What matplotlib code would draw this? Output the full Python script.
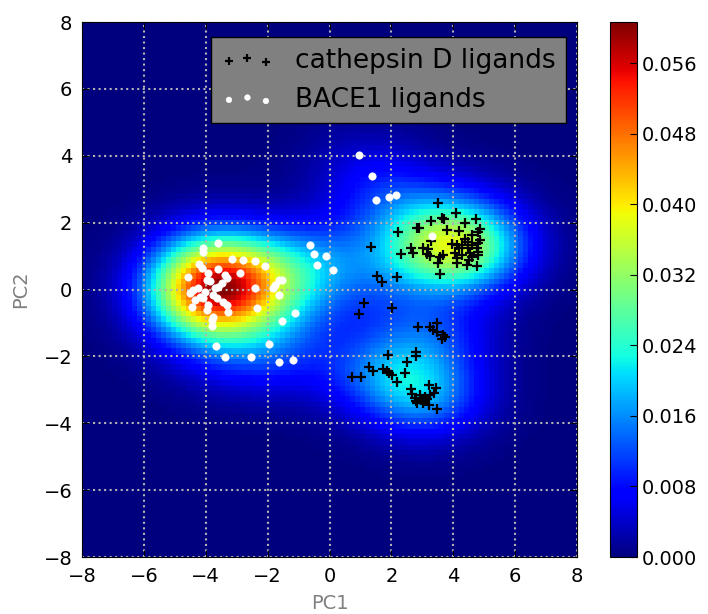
import numpy as np
import matplotlib
matplotlib.use('Agg')
import matplotlib.pyplot as plt

# BACE1 ligands (white dots), PC1 / PC2
bace_x = [-3.61, -4.08, -4.10, -3.16, -2.79, -2.42, -2.09,
          -4.22, -4.13, -4.58, -3.61, -3.92, -3.97, -3.86, -3.38, -3.32, -3.48, -3.59,
          -3.70, -4.40, -4.24, -4.02, -4.51, -3.76, -4.19, -4.08, -3.65, -4.35, -3.43,
          -3.32, -3.92, -4.45, -3.97, -3.27, -3.76, -3.81, -3.81, -2.89, -2.41,
          -2.35, -1.12, -1.53, -3.67, -1.97, -3.37, -2.53, -1.63, -1.17,
          -1.62, -1.55, -1.76, -1.82, -1.62,
          -0.63, -0.49, -0.10, -0.40, 0.12,
          0.95, 1.38, 1.49, 1.92, 2.16, 3.32]
bace_y = [1.38, 1.23, 1.11, 0.92, 0.89, 0.86, 0.70,
          0.75, 0.65, 0.38, 0.61, 0.49, 0.28, 0.25, 0.43, 0.34, 0.19, 0.08,
          0.04, -0.01, 0.04, -0.07, -0.11, -0.16, -0.21, -0.26, -0.26, -0.31, -0.36,
          -0.46, -0.46, -0.51, -0.61, -0.66, -0.81, -0.91, -1.08, 0.49, 0.04,
          -0.56, -0.71, -0.95, -1.70, -1.64, -2.01, -2.01, -2.18, -2.11,
          0.28, 0.28, 0.14, 0.04, -0.15,
          1.33, 1.05, 1.01, 0.72, 0.57,
          4.03, 3.40, 2.67, 2.76, 2.82, 1.61]

# cathepsin D ligands (black crosses)
cath_x = [3.50, 4.08, 3.63, 3.70, 3.27, 4.38, 4.73, 2.82, 2.89, 2.20, 3.79, 4.19,
          4.86, 4.81, 4.62, 3.28, 4.38, 4.49, 4.86, 3.95, 4.11, 4.27, 4.60, 4.81,
          2.63, 3.03, 3.19, 4.20, 4.49, 4.76, 2.71, 4.06, 4.27, 4.54, 4.81, 2.31,
          3.14, 3.25, 3.68, 3.57, 4.11, 4.60, 4.51, 4.81, 4.11, 3.52, 4.43, 4.76, 3.57,
          1.33, 1.53, 1.71, 2.17, 1.12, 0.96, 2.02, 2.85, 3.25, 3.34, 3.49, 3.46,
          3.68, 3.73, 3.63, 2.80, 2.80, 1.90, 2.50, 2.43, 1.29, 1.40, 1.72, 1.85,
          1.93, 2.03, 0.72, 1.02, 2.17,
          2.62, 3.23, 3.44, 2.66, 2.75, 2.92, 3.09, 3.24, 3.39, 2.80, 2.96, 3.14,
          2.84, 3.21, 3.48, 3.02]
cath_y = [2.58, 2.28, 2.15, 2.10, 2.05, 2.00, 2.11, 1.85, 1.83, 1.73, 1.78, 1.75,
          1.81, 1.73, 1.63, 1.45, 1.50, 1.43, 1.48, 1.35, 1.33, 1.33, 1.33, 1.38,
          1.25, 1.23, 1.20, 1.23, 1.25, 1.23, 1.08, 1.08, 1.03, 1.08, 1.13, 1.05,
          1.05, 1.01, 1.03, 0.98, 0.95, 0.98, 0.88, 1.03, 0.78, 0.78, 0.73, 0.71, 0.45,
          1.28, 0.40, 0.23, 0.36, -0.39, -0.73, -0.56, -1.12, -1.11, -1.21, -0.99, -1.28,
          -1.37, -1.41, -1.49, -1.87, -1.99, -1.97, -2.17, -2.49, -2.33, -2.44, -2.38, -2.43,
          -2.50, -2.57, -2.61, -2.63, -2.78,
          -2.98, -2.87, -2.94, -3.13, -3.24, -3.14, -3.21, -3.16, -3.08, -3.34, -3.29, -3.28,
          -3.40, -3.45, -3.57, -3.38]

# kernel widths along PC1 / PC2 and weight of each ligand set
BW_X, BW_Y = 1.35, 0.85
W_BACE, W_CATH = 0.88, 0.64


def kde(px, py, gx, gy, hx, hy):
    # gaussian kde with a diagonal kernel
    z = np.zeros(gx.shape)
    for x0, y0 in zip(px, py):
        z += np.exp(-0.5 * (((gx - x0) / hx) ** 2 + ((gy - y0) / hy) ** 2))
    return z / (2 * np.pi * hx * hy * len(px))


xx, yy = np.mgrid[-8:8:100j, -8:8:100j]
Z = (W_BACE * kde(bace_x, bace_y, xx, yy, BW_X, BW_Y)
     + W_CATH * kde(cath_x, cath_y, xx, yy, BW_X, BW_Y))

fig = plt.figure(figsize=(7.08, 6.14), dpi=100)
ax = fig.add_axes([0.1158, 0.0928, 0.6992, 0.8713])
cax = fig.add_axes([0.8616, 0.0928, 0.0381, 0.8713])

im = ax.imshow(np.rot90(Z), cmap='jet', extent=[-8, 8, -8, 8], aspect='auto',
               interpolation='nearest')
ax.scatter(cath_x, cath_y, marker='+', c='k', s=60, linewidths=1.6,
           label='cathepsin D ligands', zorder=3)
ax.scatter(bace_x, bace_y, marker='o', c='w', edgecolors='w', s=28, linewidths=0.5,
           label='BACE1 ligands', zorder=3)

ax.set_xlim(-8, 8)
ax.set_ylim(-8, 8)
ax.set_xticks(np.arange(-8, 9, 2))
ax.set_yticks(np.arange(-8, 9, 2))
ax.grid(True, color='#b4b4b4', linestyle=':', linewidth=1.5)
ax.tick_params(direction='in', top=True, right=True, labelsize=14, length=5, pad=7)
ax.set_xlabel('PC1', color='gray', fontsize=14, labelpad=6)
ax.set_ylabel('PC2', color='gray', fontsize=14, labelpad=10)

leg = ax.legend(loc='upper right', bbox_to_anchor=(0.978, 0.972), borderaxespad=0,
                scatterpoints=3, fontsize=19, markerscale=0.75,
                frameon=True, fancybox=False, borderpad=0.4)
leg.get_frame().set_facecolor('gray')
leg.get_frame().set_edgecolor('black')
leg.get_frame().set_alpha(1)

cb = fig.colorbar(im, cax=cax)
ticks = np.arange(0, Z.max(), 0.008)
cb.set_ticks(ticks)
cb.ax.set_yticklabels(['%.3f' % t for t in ticks])
cb.ax.tick_params(direction='in', labelsize=14, length=5)

fig.savefig('out.png', dpi=100)
